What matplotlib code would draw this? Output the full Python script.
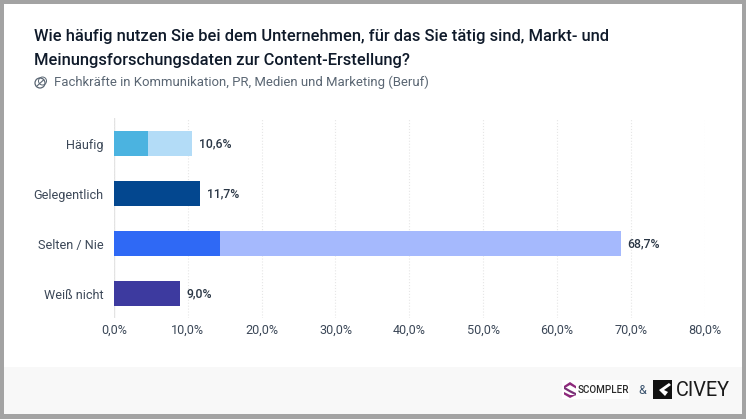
import matplotlib
matplotlib.use("Agg")
from matplotlib import pyplot as plt
from matplotlib.patches import Rectangle, Circle, Polygon

plt.rcParams['font.family'] = ['Roboto', 'DejaVu Sans']

categories = ["Häufig", "Gelegentlich", "Selten / Nie", "Weiß nicht"]
totals = [10.6, 11.7, 68.7, 9.0]
#darker part of the bar, 0 where the bar has only one colour
inner = [4.6, 0, 14.3, 0]
value_labels = ["10,6%", "11,7%", "68,7%", "9,0%"]
ticks = [0, 10, 20, 30, 40, 50, 60, 70, 80]
tick_labels = ["0,0%", "10,0%", "20,0%", "30,0%", "40,0%", "50,0%", "60,0%", "70,0%", "80,0%"]
total_colors = ["#b3dcf7", "#03478f", "#a5b9fd", "#3d3a9f"]
inner_colors = ["#4bb3e0", "#03478f", "#2f69f5", "#3d3a9f"]

W, H = 746, 419
fig = plt.figure(figsize=(W / 100, H / 100), dpi=100, facecolor="#a3a3a3")

#background layer in pixel coordinates, for the card, footer and logos
bg = fig.add_axes([0, 0, 1, 1])
bg.set_xlim(0, W)
bg.set_ylim(H, 0)
bg.axis("off")
bg.add_patch(Rectangle((4, 4), 737.5, 410, color="white", lw=0))
bg.add_patch(Rectangle((4, 367), 737.5, 47, color="#f8f8f8", lw=0))

bg.text(34, 37, "Wie häufig nutzen Sie bei dem Unternehmen, für das Sie tätig sind, Markt- und",
        fontsize=11.88, fontweight="medium", color="#0f1a2a", va="center")
bg.text(34, 60, "Meinungsforschungsdaten zur Content-Erstellung?",
        fontsize=11.88, fontweight="medium", color="#0f1a2a", va="center")
bg.text(54.5, 82, "Fachkräfte in Kommunikation, PR, Medien und Marketing (Beruf)",
        fontsize=9.45, color="#5a6673", va="center")

#little icon in front of the subtitle
bg.add_patch(Circle((40, 83), 5, fill=False, ec="#5a6673", lw=0.9))
bg.add_patch(Circle((42.5, 81), 4, fill=False, ec="#5a6673", lw=0.7))
bg.plot([37, 43.5], [86, 80], color="#5a6673", lw=0.8)

#logos
bg.add_patch(Rectangle((562, 380), 67, 19, color="white", lw=0))
bg.add_patch(Polygon([(564, 386), (570, 382), (576, 386), (576, 388.5), (570, 385), (564, 388.5)],
                     color="#8e2a7c", lw=0))
bg.add_patch(Polygon([(564, 386.5), (570, 390), (576, 393), (576, 395.5), (570, 392.5), (564, 389)],
                     color="#7a3278", lw=0))
bg.add_patch(Polygon([(564, 392), (570, 395), (576, 395), (570, 398), (564, 394.5)],
                     color="#8e2a7c", lw=0))
bg.text(578, 390, "SCOMPLER", fontsize=7.1, fontweight="medium", color="#2b2b2b", va="center")
bg.text(642, 390, "&", fontsize=9, color="#3d5570", ha="center", va="center")
bg.add_patch(Rectangle((653, 380), 19, 19, color="#111111", lw=0))
bg.add_patch(Polygon([(669, 383), (659, 390), (665, 396), (668, 392), (664, 390), (671, 385)],
                     color="white", lw=0))
bg.text(675.5, 390, "CIVEY", fontsize=14.3, color="#1a1a1a", va="center")

#the chart itself
ax = fig.add_axes([114 / W, 1 - 318 / H, (704.5 - 114) / W, 200 / H])
ax.patch.set_alpha(0)
y = range(len(categories))
ax.barh(y, totals, height=0.5, color=total_colors, zorder=2)
ax.barh(y, inner, height=0.5, color=inner_colors, zorder=3)
for i in y:
    ax.text(totals[i] + 0.85, i, value_labels[i], va="center", fontsize=8.8,
            fontweight="medium", color="#2a3645")

ax.set_xlim(0, 80)
ax.set_ylim(3.49, -0.51)
ax.set_xticks(ticks)
ax.set_xticklabels(tick_labels)
ax.set_yticks(list(y))
ax.set_yticklabels(categories)
ax.tick_params(axis="both", length=0, labelsize=9.05, labelcolor="#3c4858")
ax.tick_params(axis="x", pad=4)
ax.tick_params(axis="y", pad=7.5)
ax.grid(axis="x", color="#e6e6e6", lw=0.8, ls=":", zorder=0)
ax.axvline(0, color="#e2e2e2", lw=1, zorder=1)
for s in ax.spines.values():
    s.set_visible(False)

fig.savefig("out.png", dpi=100, facecolor=fig.get_facecolor())
